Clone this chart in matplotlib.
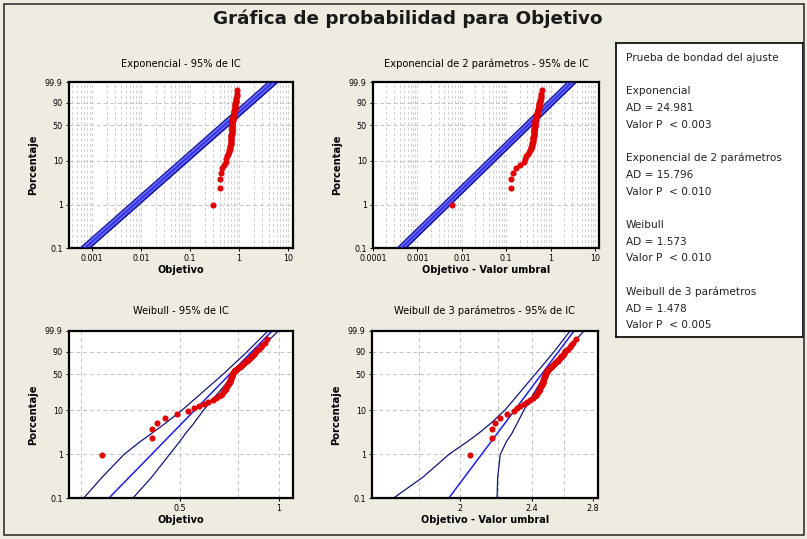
import numpy as np
import matplotlib
matplotlib.use("Agg")
from matplotlib import pyplot as plt
from matplotlib.patches import Rectangle

# --- data -----------------------------------------------------------------
objetivo = [0.29, 0.41, 0.41, 0.425, 0.45, 0.49, 0.53, 0.55, 0.57, 0.59,
            0.61, 0.63, 0.645, 0.655, 0.665, 0.67, 0.675, 0.68, 0.685, 0.69,
            0.69, 0.695, 0.70, 0.70, 0.705, 0.705, 0.71, 0.71, 0.71, 0.715,
            0.715, 0.715, 0.72, 0.72, 0.72, 0.72, 0.725, 0.725, 0.73, 0.73,
            0.735, 0.74, 0.745, 0.75, 0.755, 0.76, 0.765, 0.77, 0.775, 0.78,
            0.785, 0.79, 0.795, 0.80, 0.805, 0.81, 0.815, 0.82, 0.825, 0.83,
            0.835, 0.84, 0.845, 0.85, 0.86, 0.87, 0.88, 0.89, 0.905, 0.92]

# fitted parameters
exp_theta = 0.72
exp2_scale = 0.44
exp2_threshold = 0.284
exp_ci_factor = 1.25
wb_shape = 7.75
wb_scale = 0.742
wb3_shape = 27.9
wb3_scale = 2.49
wb3_threshold = -1.76

# confidence bands (x values at these percents)
ci_pct = [0.1, 0.3, 1, 2, 3, 5, 10, 50, 90, 99.9]
wb_lower = [0.255, 0.29, 0.338, 0.38, 0.41, 0.45, 0.508, 0.675, 0.80, 0.925]
wb_upper = [0.36, 0.41, 0.465, 0.50, 0.52, 0.55, 0.59, 0.73, 0.857, 0.995]
wb3_lower = [1.69, 1.82, 1.944, 2.04, 2.095, 2.16, 2.241, 2.418, 2.537, 2.642]
wb3_upper = [2.196, 2.20, 2.214, 2.25, 2.28, 2.31, 2.351, 2.48, 2.609, 2.737]

pct_ticks = [0.1, 1, 10, 50, 90, 99.9]
pct_labels = ["0.1", "1", "10", "50", "90", "99.9"]
pct_grid = [1, 10, 50, 90]

gof_lines = ["Prueba de bondad del ajuste", "",
             "Exponencial", "AD = 24.981", "Valor P  < 0.003", "",
             "Exponencial de 2 parámetros", "AD = 15.796", "Valor P  < 0.010", "",
             "Weibull", "AD = 1.573", "Valor P  < 0.010", "",
             "Weibull de 3 parámetros", "AD = 1.478", "Valor P  < 0.005"]

# --- helpers ---------------------------------------------------------------
def fwd(p):
    p = np.clip(np.asarray(p, dtype=float), 1e-7, 100 - 1e-7) / 100.0
    return np.log(-np.log(1 - p))

def inv(w):
    return 100.0 * (1 - np.exp(-np.exp(w)))

BG = "#eeebe0"
RED = "#e00000"
BLUE = "#1f1fe6"
NAVY = "#14147a"
GRID = "#c4c4c4"
FS = 5.8

plt.rcParams["font.family"] = ["DejaVu Sans"]

fig = plt.figure(figsize=(8.07, 5.39), dpi=100, facecolor=BG)
W, H = 807.0, 539.0

def make_ax(x0, y0, x1, y1):
    return fig.add_axes([x0 / W, 1 - y1 / H, (x1 - x0) / W, (y1 - y0) / H])

n = len(objetivo)
data = np.array(objetivo)
pct = (np.arange(1, n + 1) - 0.3) / (n + 0.4) * 100
line_pct = np.array([0.1, 99.9])
q = -np.log(1 - line_pct / 100)

def style(ax, title, xlabel, xlim, xticks, xticklabels, vgrid, glw=0.7, tpad=10):
    ax.set_facecolor("white")
    ax.set_xscale("log")
    ax.set_yscale("function", functions=(fwd, inv))
    ax.set_ylim(0.1, 99.9)
    ax.set_xlim(*xlim)
    for v in vgrid:
        ax.axvline(v, color=GRID, lw=glw, ls=(0, (4, 3)), zorder=0)
    for v in pct_grid:
        ax.axhline(v, color=GRID, lw=0.7, ls=(0, (4, 3)), zorder=0)
    ax.set_yticks(pct_ticks)
    ax.set_yticklabels(pct_labels)
    ax.set_xticks(xticks)
    ax.set_xticklabels(xticklabels)
    ax.xaxis.set_minor_locator(matplotlib.ticker.NullLocator())
    ax.yaxis.set_minor_locator(matplotlib.ticker.NullLocator())
    ax.tick_params(labelsize=FS, length=2.5, width=0.7, pad=2)
    for s in ax.spines.values():
        s.set_linewidth(1.6)
    ax.set_title(title, fontsize=7.1, pad=tpad)
    ax.set_xlabel(xlabel, fontsize=7, fontweight="bold", labelpad=1)
    ax.set_ylabel("Porcentaje", fontsize=7.2, fontweight="bold", labelpad=5)

def log_grid(lo_exp, hi_exp):
    g = []
    for e in range(lo_exp, hi_exp + 1):
        for m in range(1, 10):
            g.append(m * 10.0 ** e)
    return g

def exp_band(ax, fit):
    lo, hi = fit / exp_ci_factor, fit * exp_ci_factor
    ax.fill_betweenx(line_pct, lo, hi, color="#6464e6", lw=0, zorder=2)
    ax.plot(lo, line_pct, color="#1010a8", lw=1.0, zorder=3)
    ax.plot(hi, line_pct, color="#1010a8", lw=1.0, zorder=3)
    ax.plot(fit, line_pct, color="#2a2aff", lw=1.0, zorder=3)

# Exponencial
ax1 = make_ax(69, 82, 293, 248)
style(ax1, "Exponencial - 95% de IC", "Objetivo", (0.00034, 12.6),
      [0.001, 0.01, 0.1, 1, 10], ["0.001", "0.01", "0.1", "1", "10"],
      log_grid(-4, 1), glw=0.55, tpad=11)
exp_band(ax1, exp_theta * q)
ax1.plot(data, pct, "o", color=RED, ms=4.4, mew=0, zorder=4)

# Exponencial de 2 parametros
ax2 = make_ax(373, 82, 599, 248)
style(ax2, "Exponencial de 2 parámetros - 95% de IC", "Objetivo - Valor umbral",
      (0.0001, 12.3), [0.0001, 0.001, 0.01, 0.1, 1, 10],
      ["0.0001", "0.001", "0.01", "0.1", "1", "10"], log_grid(-4, 1),
      glw=0.55, tpad=11)
exp_band(ax2, exp2_scale * q)
ax2.plot(data - exp2_threshold, pct, "o", color=RED, ms=4.4, mew=0, zorder=4)

# Weibull
ax3 = make_ax(69, 331, 293, 498)
style(ax3, "Weibull - 95% de IC", "Objetivo", (0.23, 1.103),
      [0.5, 1], ["0.5", "1"], [0.25, 0.5, 0.75, 1.0], tpad=12)
fit = wb_scale * q ** (1 / wb_shape)
ax3.plot(wb_lower, ci_pct, color=NAVY, lw=0.9)
ax3.plot(wb_upper, ci_pct, color=NAVY, lw=0.9)
ax3.plot(fit, line_pct, color=BLUE, lw=1.1)
ax3.plot(data, pct, "o", color=RED, ms=4.4, mew=0, zorder=4)

# Weibull de 3 parametros
ax4 = make_ax(372, 331, 598, 498)
style(ax4, "Weibull de 3 parámetros - 95% de IC", "Objetivo - Valor umbral",
      (1.60, 2.836), [2, 2.4, 2.8], ["2", "2.4", "2.8"],
      [1.8, 2.0, 2.2, 2.4, 2.6], tpad=12)
fit = wb3_scale * q ** (1 / wb3_shape)
ax4.plot(wb3_lower, ci_pct, color=NAVY, lw=0.9)
ax4.plot(wb3_upper, ci_pct, color=NAVY, lw=0.9)
ax4.plot(fit, line_pct, color=BLUE, lw=1.1)
ax4.plot(data - wb3_threshold, pct, "o", color=RED, ms=4.4, mew=0, zorder=4)

# goodness of fit box
axl = make_ax(616, 43, 803, 337)
axl.set_facecolor("white")
axl.set_xticks([])
axl.set_yticks([])
for s in axl.spines.values():
    s.set_linewidth(1.2)
for k, txt in enumerate(gof_lines):
    ypx = 58 + 16.7 * k
    fig.text(626 / W, 1 - ypx / H, txt, fontsize=7.6, color="#222222",
             va="center", ha="left")

# title and outer frame
fig.text(408 / W, 1 - 19 / H, "Gráfica de probabilidad para Objetivo",
         fontsize=13.2, fontweight="bold", ha="center", va="center",
         color="#1a1a1a")
fig.patches.append(Rectangle((4 / W, 4 / H), 800 / W, 531 / H,
                             transform=fig.transFigure, fill=False,
                             edgecolor="#333333", lw=1.2))

fig.savefig("out.png", dpi=100, facecolor=BG)
